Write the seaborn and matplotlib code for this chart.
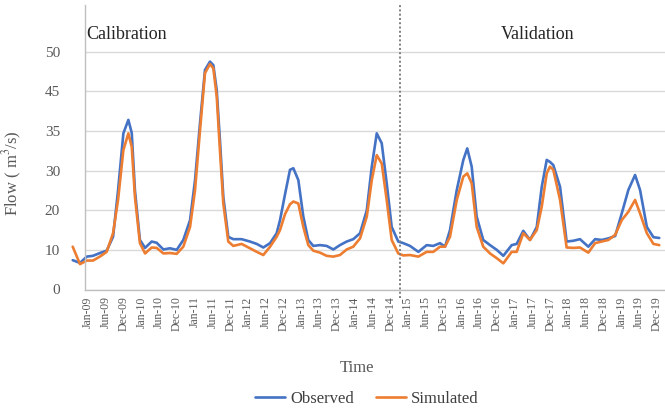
import numpy as np
import pandas as pd
import matplotlib
matplotlib.use("Agg")
import matplotlib.pyplot as plt
import seaborn as sns

# ---------------- data ----------------
tick_labels = ["Jan-09", "Jun-09", "Dec-09", "Jan-10", "Jun-10", "Dec-10",
               "Jan-11", "Jun-11", "Dec-11", "Jan-12", "Jun-12", "Dec-12",
               "Jan-13", "Jun-13", "Dec-13", "Jan-14", "Jun-14", "Dec-14",
               "Jan-15", "Jun-15", "Dec-15", "Jan-16", "Jun-16", "Dec-16",
               "Jan-17", "Jun-17", "Dec-17", "Jan-18", "Jun-18", "Dec-18",
               "Jan-19", "Jun-19", "Dec-19"]

# time position, in units of the category-label slots
time_slot = [-0.86, -0.45, -0.07, 0.28, 0.67, 1.05, 1.41, 1.69, 1.99, 2.27,
             2.46, 2.64, 2.92, 3.21, 3.58, 3.86, 4.24, 4.61, 4.99, 5.36,
             5.74, 6.02, 6.30, 6.58, 6.86, 7.05, 7.24, 7.42, 7.61, 7.89,
             8.17, 8.64, 9.11, 9.49, 9.86, 10.24, 10.61, 10.80, 11.08, 11.36,
             11.55, 11.83, 12.11, 12.39, 12.67, 13.05, 13.42, 13.80, 14.17, 14.55,
             14.92, 15.30, 15.68, 15.96, 16.24, 16.52, 16.80, 17.08, 17.45, 17.73,
             18.11, 18.58, 19.05, 19.42, 19.80, 20.08, 20.36, 20.74, 21.11, 21.33,
             21.58, 21.86, 22.23, 22.61, 22.99, 23.36, 23.83, 24.11, 24.48, 24.86,
             25.24, 25.52, 25.80, 25.98, 26.17, 26.55, 26.92, 27.30, 27.67, 28.14,
             28.52, 28.89, 29.27, 29.65, 30.02, 30.39, 30.77, 31.05, 31.43, 31.80,
             32.13]

observed = [7.4, 6.7, 8.3, 8.5, 9.2, 9.8, 13.3, 25.0, 34.7, 37.8,
            34.75, 25.0, 12.5, 10.5, 12.1, 11.8, 10.1, 10.4, 10.0, 12.5,
            17.5, 27.6, 37.0, 47.7, 48.75, 48.3, 45.15, 33.85, 23.4, 13.3,
            12.7, 12.7, 12.1, 11.5, 10.6, 11.7, 14.2, 17.5, 24.0, 30.1,
            30.3, 27.6, 18.4, 12.5, 11.0, 11.2, 11.0, 10.1, 11.2, 12.1,
            12.7, 14.2, 20.0, 30.5, 34.7, 33.45, 26.8, 15.8, 12.1, 11.7,
            11.0, 9.5, 11.2, 11.0, 11.7, 10.8, 15.0, 25.1, 31.35, 32.8,
            30.5, 18.4, 12.5, 11.2, 10.0, 8.5, 11.2, 11.5, 14.8, 12.5,
            15.8, 25.9, 31.35, 31.1, 30.7, 25.9, 12.1, 12.3, 12.7, 10.8,
            12.7, 12.5, 12.9, 13.5, 19.2, 25.1, 28.9, 25.1, 15.8, 13.2,
            13.0]

simulated = [10.8, 6.4, 7.3, 7.3, 8.3, 9.5, 14.2, 22.6, 32.6, 34.7,
             33.0, 23.4, 11.7, 9.1, 10.6, 10.5, 9.1, 9.2, 9.0, 10.8,
             15.8, 25.1, 35.2, 47.3, 48.45, 47.9, 43.7, 32.6, 21.7, 12.1,
             11.0, 11.5, 10.4, 9.5, 8.7, 10.8, 13.3, 15.0, 19.0, 21.5,
             22.2, 21.7, 15.8, 11.2, 9.8, 9.3, 8.5, 8.3, 8.7, 10.1,
             10.8, 12.9, 18.4, 27.6, 31.95, 30.9, 22.6, 12.5, 9.1, 8.6,
             8.7, 8.3, 9.5, 9.5, 10.8, 10.8, 13.3, 22.6, 28.5, 29.3,
             26.8, 15.8, 10.8, 9.1, 7.9, 6.6, 9.5, 9.5, 14.2, 12.5,
             15.0, 20.9, 29.3, 30.5, 30.1, 22.6, 10.6, 10.5, 10.6, 9.3,
             11.7, 12.1, 12.5, 13.8, 17.5, 19.6, 22.6, 19.2, 14.2, 11.5,
             11.2]

y_tick_values = [0, 10, 20, 30, 35, 45, 50]
series_names = ["Observed", "Simulated"]
series_colors = ["#4472C4", "#ED7D31"]
split_slot = 17.55  # calibration / validation boundary

df = pd.DataFrame({
    "time": time_slot * 2,
    "flow": observed + simulated,
    "series": [series_names[0]] * len(observed) + [series_names[1]] * len(simulated),
})

# ---------------- style ----------------
sns.set_style("white")
plt.rcParams["font.family"] = ["Liberation Serif", "DejaVu Serif"]
plt.rcParams["mathtext.fontset"] = "stix"

fig = plt.figure(figsize=(6.65, 4.08), dpi=100)
W, H = 665, 408
ax = fig.add_axes([85 / W, 1 - 289.5 / H, (665 - 85) / W, (289.5 - 5) / H])

sns.lineplot(data=df, x="time", y="flow", hue="series", hue_order=series_names,
             palette=series_colors, estimator=None, sort=False, linewidth=1.9,
             ax=ax, legend=True)
for ln in ax.lines:
    ln.set_clip_on(False)
    ln.set_solid_capstyle("round")
    ln.set_solid_joinstyle("round")

# equally spaced gridlines carrying the labels 0,10,20,30,35,45,50
lab_ext = np.array(y_tick_values + [60], dtype=float)
pos_ext = np.array(list(range(len(y_tick_values))) + [len(y_tick_values) + 1], dtype=float)


def fwd(v):
    return np.interp(v, lab_ext, pos_ext)


def inv(p):
    return np.interp(p, pos_ext, lab_ext)


ax.set_yscale("function", functions=(fwd, inv))
ax.set_ylim(0, inv((289.5 - 5) / 39.63))
ax.set_yticks(y_tick_values)
ax.set_yticklabels([str(v) for v in y_tick_values])
ax.yaxis.grid(True, color="#D9D9D9", linewidth=1.0)
ax.xaxis.grid(False)
ax.set_axisbelow(True)

ax.set_xlim((85 - 88) / 17.78, (665 - 88) / 17.78)
ax.set_xticks(range(len(tick_labels)))
ax.set_xticklabels(tick_labels, rotation=90, fontsize=8.5, color="#595959")
ax.tick_params(axis="x", length=0, pad=5)
ax.tick_params(axis="y", length=0, pad=18, labelsize=11, labelcolor="#595959")

for side in ["top", "right"]:
    ax.spines[side].set_visible(False)
for side in ["left", "bottom"]:
    ax.spines[side].set_color("#BFBFBF")
    ax.spines[side].set_linewidth(1.0)

ax.axvline(split_slot, color="#7F7F7F", linestyle=(0, (1, 1.2)), linewidth=1.4,
           ymin=-0.03, ymax=1.0, clip_on=False)

ax.text(0.003, 0.895, "Calibration", transform=ax.transAxes, fontsize=13,
        color="#262626", ha="left", va="center")
ax.text(0.78, 0.895, "Validation", transform=ax.transAxes, fontsize=13,
        color="#262626", ha="center", va="center")

ax.set_xlabel("Time", fontsize=12, color="#595959")
ax.xaxis.set_label_coords((357 - 85) / 580, -(360 - 289.5) / 284.5)
ax.set_ylabel("Flow ( m$^3$/s)", fontsize=12, color="#595959")
ax.yaxis.set_label_coords(-(85 - 24) / 580, (289.5 - 173) / 284.5)

handles, labels = ax.get_legend_handles_labels()
ax.get_legend().remove()
fig.legend(handles, labels, loc="center", ncol=2, frameon=False,
           bbox_to_anchor=(367 / W, 1 - 399 / H), fontsize=12,
           handlelength=1.8, handletextpad=0.3, columnspacing=1.3,
           labelcolor="#404040")

fig.savefig("out.png", dpi=100)
